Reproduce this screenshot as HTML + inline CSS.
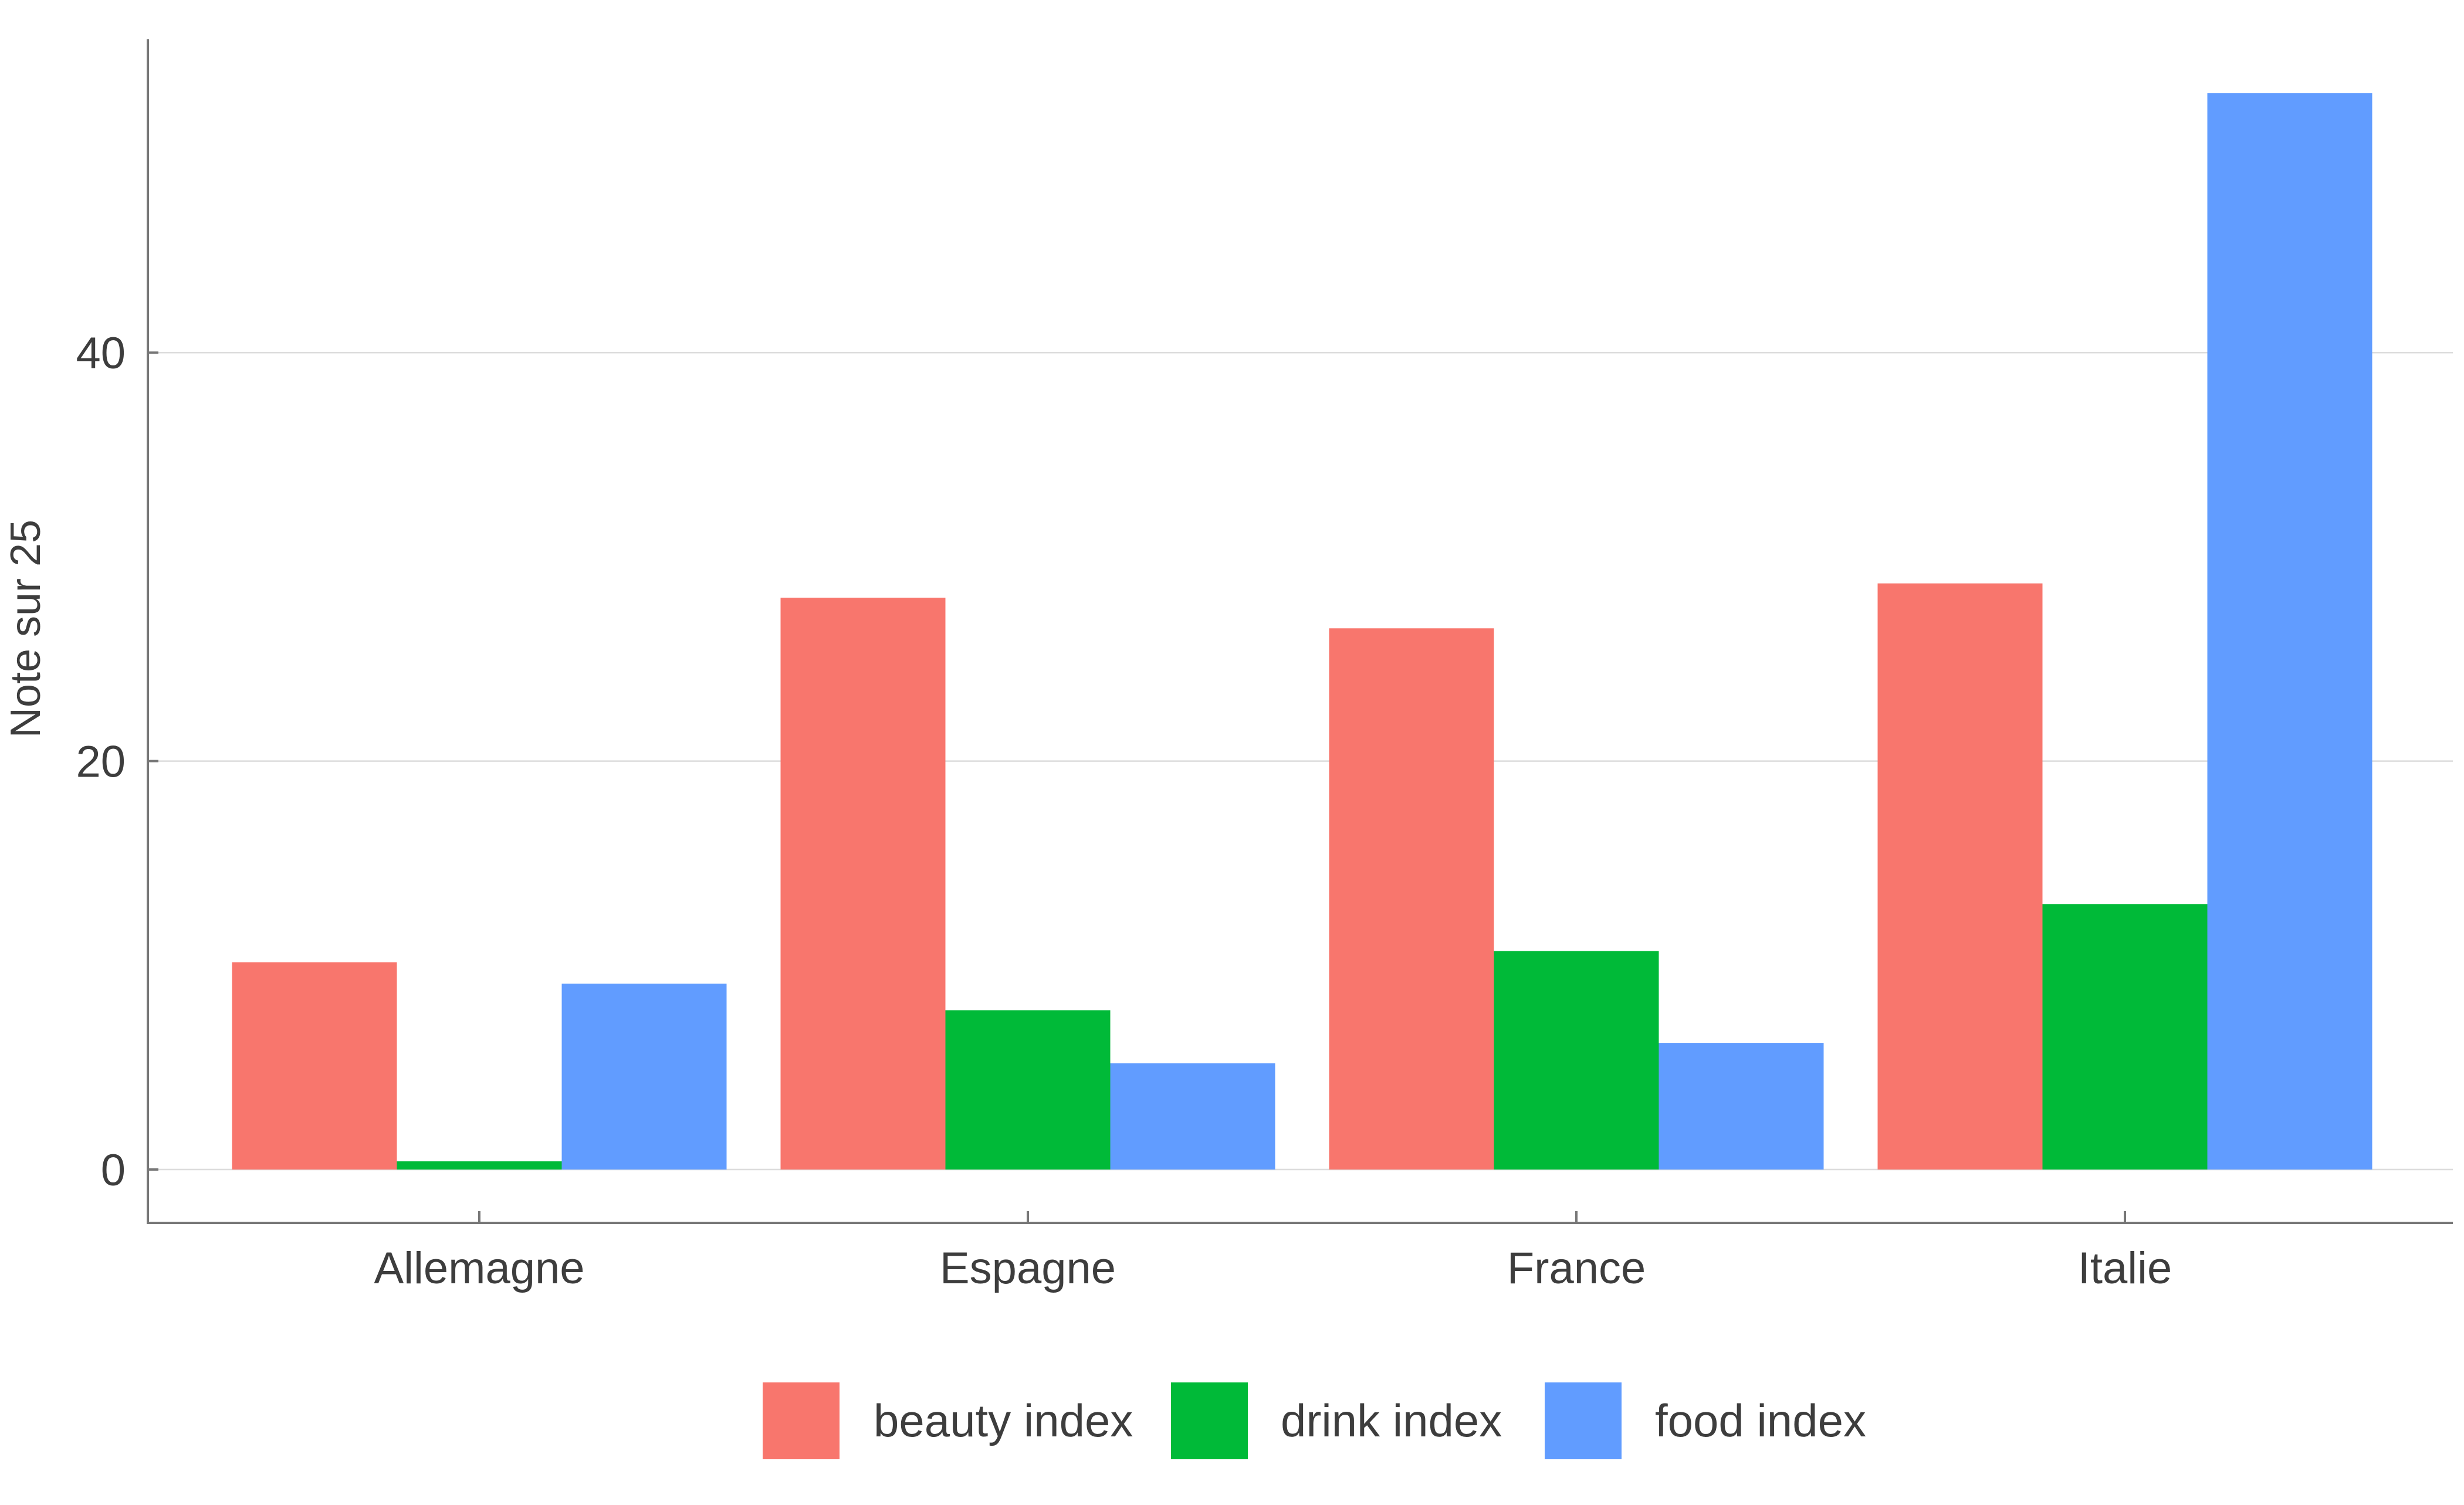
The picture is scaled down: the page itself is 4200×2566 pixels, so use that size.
<!DOCTYPE html>
<html><head><meta charset="utf-8"><style>
html,body{margin:0;padding:0;background:#fff;}
svg text{font-family:"Liberation Sans",sans-serif;fill:#3d3d3d;}
</style></head><body>
<svg id="chart" width="4200" height="2561" viewBox="0 0 4200 2561" xmlns="http://www.w3.org/2000/svg">
<rect width="4200" height="2561" fill="#fff"/>
<g id="grid"></g><g id="bars"></g><g id="axes"></g><g id="legend"></g>
</svg>
<script>
const categories = ["Allemagne","Espagne","France","Italie"];
const seriesNames = ["beauty index","drink index","food index"];
const beauty = [10.15, 28, 26.5, 28.7];
const drink = [0.4, 7.8, 10.7, 13];
const food = [9.1, 5.2, 6.2, 52.7];
const yTicks = [0, 20, 40];
const colors = ["#F8766D","#00BA38","#619CFF"];
const series = [beauty, drink, food];
const NS = "http://www.w3.org/2000/svg";
const X0 = 252, X1 = 4181, Y0 = 67, YB = 2085;
const yZero = 1994, unit = 34.82;
const catStart = 817, catStep = 935, barW = 281;
function y(v){ return yZero - v*unit; }
function xc(i){ return catStart + i*catStep; }
function mk(tag, attrs, parent){ const e=document.createElementNS(NS,tag); for(const k in attrs) e.setAttribute(k,attrs[k]); parent.appendChild(e); return e; }
const grid=document.getElementById('grid'), bars=document.getElementById('bars'), axes=document.getElementById('axes'), legend=document.getElementById('legend');
yTicks.forEach(t=>{
  const l=mk('line',{x1:X0,x2:X1,y1:y(t),y2:y(t),stroke:'#dcdcdc','stroke-width':2.5},grid);
  
  
  const tk=mk('line',{x1:X0,x2:X0+18,y1:y(t),y2:y(t),stroke:'#777','stroke-width':4},axes);
  
  
  const tx=mk('text',{x:214,y:y(t)+27,'text-anchor':'end','font-size':76},axes);
  tx.textContent=t;
  
  
});
categories.forEach((c,i)=>{
  series.forEach((s,j)=>{
    const x=xc(i)-1.5*barW+j*barW;
    const r=mk('rect',{x:x,y:y(s[i]),width:barW,height:yZero-y(s[i]),fill:colors[j]},bars);
    
    
  });
  const tk=mk('line',{x1:xc(i),x2:xc(i),y1:YB,y2:YB-20,stroke:'#777','stroke-width':4},axes);
  
  
  const tx=mk('text',{x:xc(i),y:2188,'text-anchor':'middle','font-size':76},axes);
  tx.textContent=c;
  
  
});
const ya=mk('line',{x1:X0,x2:X0,y1:Y0,y2:YB+2,stroke:'#777','stroke-width':4},axes);


const xa=mk('line',{x1:X0-2,x2:X1,y1:YB,y2:YB,stroke:'#777','stroke-width':4},axes);


const yt=mk('text',{x:0,y:0,'text-anchor':'middle','font-size':72,transform:'translate(68,1072) rotate(-90)'},axes);
yt.textContent='Note sur 25';


const legX=[1300,1996,2633], legTX=[1489,2183,2821];
seriesNames.forEach((n,j)=>{
  const r=mk('rect',{x:legX[j],y:2357,width:131,height:131,fill:colors[j]},legend);
  
  
  const t=mk('text',{x:legTX[j],y:2449,'font-size':78},legend);
  t.textContent=n;
  
  
});
</script>
</body></html>
